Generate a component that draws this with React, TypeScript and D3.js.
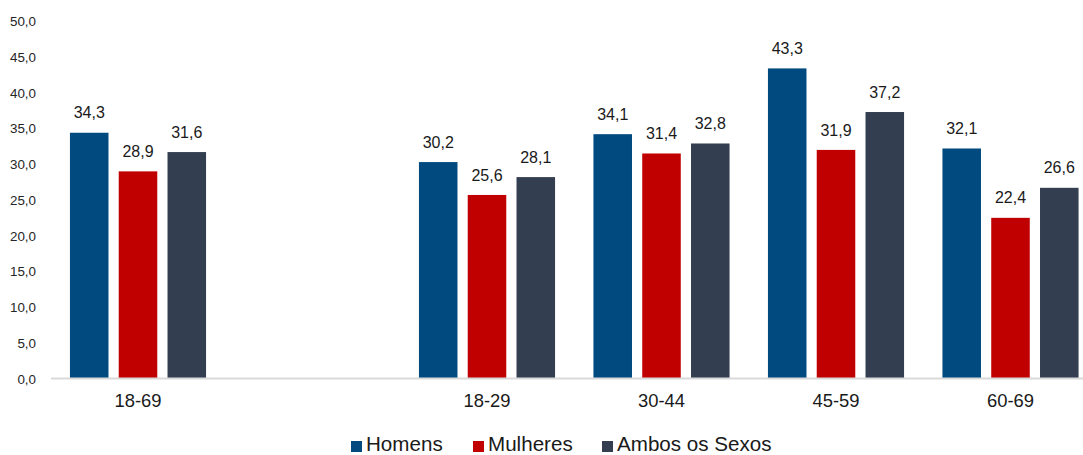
import React from "react";
import * as d3 from "d3";

const categories = ["18-69", " ", "18-29", "30-44", "45-59", "60-69"];
const seriesNames = ["Homens", "Mulheres", "Ambos os Sexos"];
const homens = [34.3, null, 30.2, 34.1, 43.3, 32.1];
const mulheres = [28.9, null, 25.6, 31.4, 31.9, 22.4];
const ambos = [31.6, null, 28.1, 32.8, 37.2, 26.6];
const yTicks = [0, 5, 10, 15, 20, 25, 30, 35, 40, 45, 50];
const colors = ["#004A80", "#C00000", "#333F50"];

const W = 1083;
const H = 455;
const FONT = "'Liberation Sans', Arial, Helvetica, sans-serif";

const fmt = (v: number) => v.toFixed(1).replace(".", ",");

export default function App() {
  const series = [homens, mulheres, ambos];
  const x = d3
    .scaleBand<string>()
    .domain(categories)
    .range([50.75, 1097.75])
    .paddingInner(0.22)
    .paddingOuter(0.11);
  const xi = d3
    .scaleBand<string>()
    .domain(seriesNames)
    .range([0, x.bandwidth()])
    .paddingInner(0.21);
  const y = d3.scaleLinear().domain([0, 50]).range([378, 20.5]);

  const legendX = [351, 473, 602];

  return (
    <svg
      width={W}
      height={H}
      style={{ position: "absolute", left: 0, top: 0, background: "#fff" }}
      fontFamily={FONT}
    >
      {yTicks.map((t) => (
        <text
          key={t}
          x={36}
          y={y(t)}
          dy="0.42em"
          textAnchor="end"
          fontSize={13.4}
          fill="#262626"
        >
          {fmt(t)}
        </text>
      ))}
      {series.map((s, si) =>
        s.map((v, ci) =>
          v == null ? null : (
            <g key={`${si}-${ci}`}>
              <rect
                x={(x(categories[ci]) ?? 0) + (xi(seriesNames[si]) ?? 0)}
                y={y(v)}
                width={xi.bandwidth()}
                height={y(0) - y(v)}
                fill={colors[si]}
              />
              <text
                x={(x(categories[ci]) ?? 0) + (xi(seriesNames[si]) ?? 0) + xi.bandwidth() / 2}
                y={y(v) - 14.4}
                textAnchor="middle"
                fontSize={16}
                fill="#1a1a1a"
              >
                {fmt(v)}
              </text>
            </g>
          )
        )
      )}
      <line x1={51} x2={W} y1={y(0) + 0.5} y2={y(0) + 0.5} stroke="#D9D9D9" strokeWidth={1.8} />
      {categories.map((c) => (
        <text
          key={c}
          x={(x(c) ?? 0) + x.bandwidth() / 2}
          y={407}
          textAnchor="middle"
          fontSize={18.4}
          fill="#1a1a1a"
        >
          {c.trim()}
        </text>
      ))}
      {seriesNames.map((n, i) => (
        <g key={n}>
          <rect x={legendX[i]} y={441} width={11} height={11} fill={colors[i]} />
          <text x={legendX[i] + 15} y={450.8} fontSize={20.6} fill="#1a1a1a">
            {n}
          </text>
        </g>
      ))}
    </svg>
  );
}
